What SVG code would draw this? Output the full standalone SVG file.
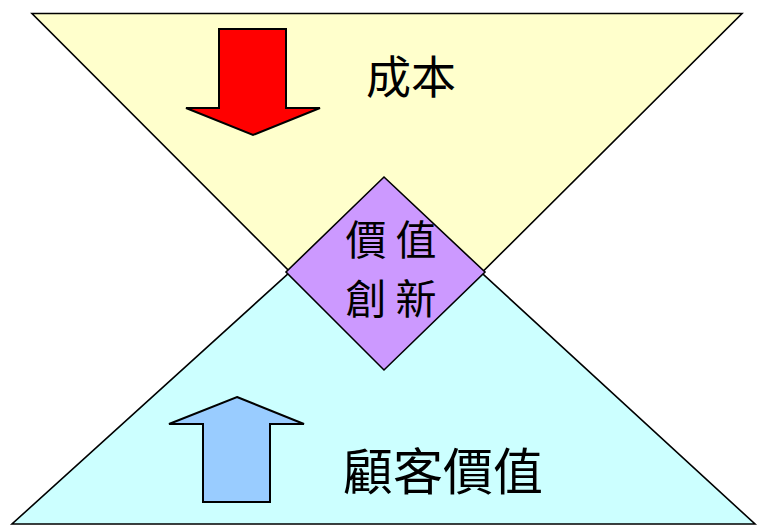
<svg xmlns="http://www.w3.org/2000/svg" width="758" height="525" viewBox="0 0 758 525">
<style>
.shape{stroke:#000;stroke-width:1.6;stroke-linejoin:miter}
.arrow{stroke:#000;stroke-width:2;stroke-linejoin:miter}
.t{font-family:"Noto Sans CJK TC","Noto Sans CJK SC",sans-serif;fill:#000;text-anchor:middle}
</style>
<rect width="758" height="525" fill="#fff"/>
<g id="cost-triangle">
<polygon class="shape" points="32,13.5 742,13.5 386,368" fill="#FFFFCC"/>
</g>
<g id="value-triangle">
<polygon class="shape" points="386,185 755,524 12,524" fill="#CCFFFF"/>
</g>
<g id="innovation">
<polygon class="shape" points="384,177 485,272 384,370 286,272" fill="#CC99FF"/>
<text class="t" x="366" y="255" font-size="41">價</text>
<text class="t" x="416" y="255" font-size="41">值</text>
<text class="t" x="366" y="314" font-size="41">創</text>
<text class="t" x="416" y="314" font-size="41">新</text>
</g>
<g id="cost">
<polygon class="arrow" points="219,29 286,29 286,108 320,108 253,135 186,108 219,108" fill="#FF0000"/>
<text class="t" x="411" y="94" font-size="45">成本</text>
</g>
<g id="customer-value">
<polygon class="arrow" points="237,397 304,424 270,424 270,502 203,502 203,424 169,424" fill="#99CCFF"/>
<text class="t" x="443" y="490" font-size="50">顧客價值</text>
</g>
<g id="connectors"></g>
</svg>
